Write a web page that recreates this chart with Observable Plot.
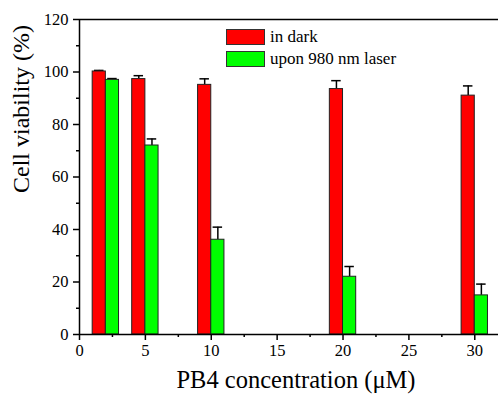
<!DOCTYPE html>
<html><head><meta charset="utf-8">
<script src="https://cdn.jsdelivr.net/npm/d3@7"></script>
<script src="https://cdn.jsdelivr.net/npm/@observablehq/plot@0.6"></script>
<style>
body{margin:0;background:#fff;}
#wrap{position:relative;width:500px;height:400px;font-family:"Liberation Serif",serif;}
#wrap svg text{font-family:"Liberation Serif",serif;}
.leg{position:absolute;left:226px;display:flex;align-items:center;font-family:"Liberation Serif",serif;font-size:17px;color:#000;}
.sw{width:37px;height:14px;border:1px solid #333;margin-right:5px;}
</style></head>
<body><div id="wrap"></div>
<script>
const concentrations = [2, 5, 10, 20, 30];
const darkValues = [100.2, 97.3, 95.1, 93.5, 91.0];
const darkErrors = [0.4, 1.3, 2.3, 3.2, 3.7];
const laserValues = [97.0, 72.0, 36.1, 22.0, 14.9];
const laserErrors = [0.5, 2.5, 4.8, 3.9, 4.3];
const xTicks = [0, 5, 10, 15, 20, 25, 30];
const yTicks = [0, 20, 40, 60, 80, 100, 120];

const dark = concentrations.map((c, i) => ({c, v: darkValues[i], e: darkErrors[i], x1: c - 1, x2: c, xm: c - 0.5}));
const laser = concentrations.map((c, i) => ({c, v: laserValues[i], e: laserErrors[i], x1: c, x2: c + 1, xm: c + 0.5}));
const cap = 0.36;

const font = '"Liberation Serif", serif';
const errMarks = (data) => [
  Plot.ruleX(data, {x: "xm", y1: "v", y2: d => d.v + d.e, stroke: "#000", strokeWidth: 1.5}),
  Plot.ruleY(data, {x1: d => d.xm - cap, x2: d => d.xm + cap, y: d => d.v + d.e, stroke: "#000", strokeWidth: 1.5})
];

const chart = Plot.plot({
  width: 500, height: 400,
  marginLeft: 79, marginRight: 2, marginTop: 19, marginBottom: 66,
  style: {fontFamily: font, fontSize: "16.5px", color: "#000", background: "#fff"},
  x: {domain: [0, 31.8]},
  y: {domain: [0, 120]},
  marks: [
    ...errMarks(dark),
    ...errMarks(laser),
    Plot.rectY(dark, {x1: "x1", x2: "x2", y: "v", fill: "#ff0000", stroke: "#222", strokeWidth: 1}),
    Plot.rectY(laser, {x1: "x1", x2: "x2", y: "v", fill: "#00ff00", stroke: "#222", strokeWidth: 1}),
    Plot.axisX({ticks: xTicks, tickSize: 6, tickPadding: 4, label: null, fontFamily: font, fontSize: "16.5px", strokeWidth: 1.5}),
    Plot.axisX({ticks: d3.range(2.5, 31, 5), tickSize: 3, tickFormat: () => "", label: null, strokeWidth: 1.5}),
    Plot.axisY({ticks: yTicks, tickSize: 6, tickPadding: 5, label: null, fontFamily: font, fontSize: "16.5px", strokeWidth: 1.5}),
    Plot.axisY({ticks: d3.range(10, 120, 20), tickSize: 3, tickFormat: () => "", label: null, strokeWidth: 1.5}),
    Plot.ruleY([0], {stroke: "#000", strokeWidth: 1.5}),
    Plot.ruleY([120], {stroke: "#000", strokeWidth: 1.5}),
    Plot.ruleX([0], {stroke: "#000", strokeWidth: 1.5}),
    Plot.text(["PB4 concentration (μM)"], {frameAnchor: "bottom", dx: 7, dy: 53, fontSize: 24.5, fontFamily: font, fill: "#000"}),
    Plot.text(["Cell viability (%)"], {frameAnchor: "left", dx: -58, dy: 16, rotate: -90, fontSize: 24, fontFamily: font, fill: "#000"})
  ]
});
const wrap = document.getElementById("wrap");
wrap.appendChild(chart);
const legendItems = [["in dark", "#ff0000", 27], ["upon 980 nm laser", "#00ff00", 49]];
for (const [label, color, top] of legendItems) {
  const d = document.createElement("div");
  d.className = "leg";
  d.style.top = top + "px";
  d.innerHTML = `<span class="sw" style="background:${color}"></span><span>${label}</span>`;
  wrap.appendChild(d);
}
</script></body></html>
